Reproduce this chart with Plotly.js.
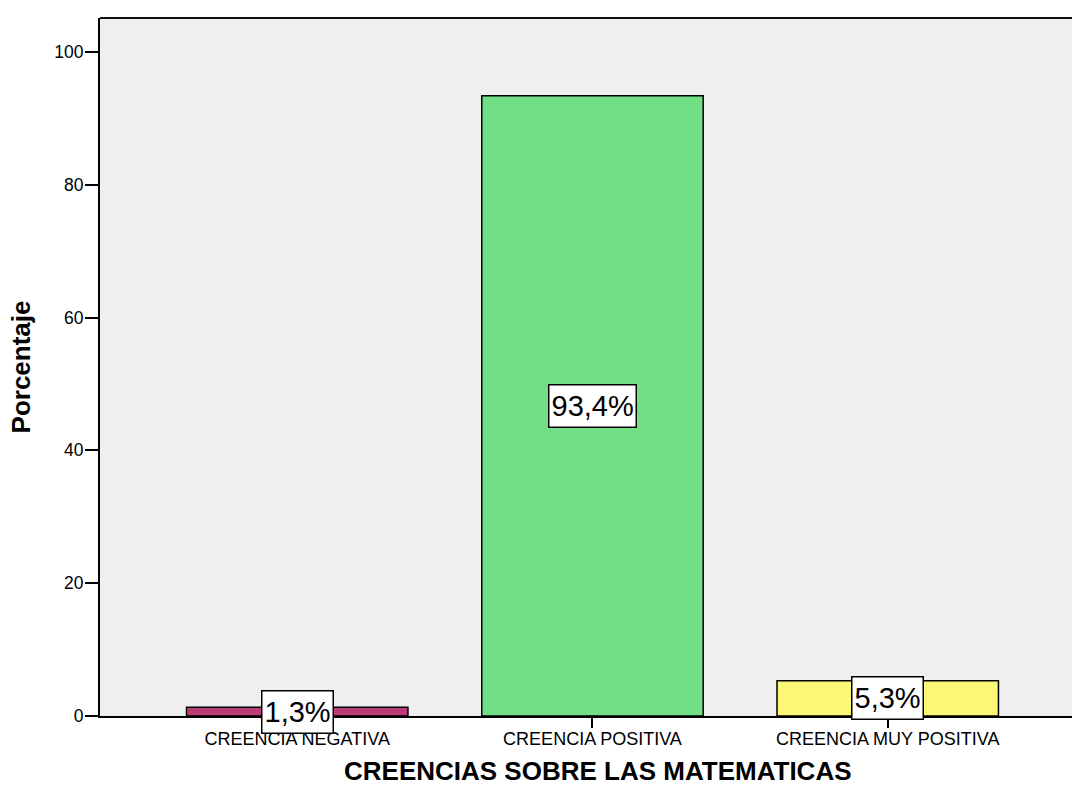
<!DOCTYPE html>
<html>
<head>
<meta charset="utf-8">
<script src="https://cdn.plot.ly/plotly-3.0.1.min.js"></script>
<style>
html,body{margin:0;padding:0;overflow:hidden;background:#fff;}
#chart{width:1095px;height:787px;}
</style>
</head>
<body>
<div id="chart"></div>
<script>
const categories = ["CREENCIA NEGATIVA", "CREENCIA POSITIVA", "CREENCIA MUY POSITIVA"];
const percentages = [1.3, 93.4, 5.3];
const labels = ["1,3%", "93,4%", "5,3%"];
const barColors = ["#bc3a76", "#72de85", "#fbf877"];
const yTicks = [0, 20, 40, 60, 80, 100];
const xTitle = "CREENCIAS SOBRE LAS MATEMATICAS";
const yTitle = "Porcentaje";

const trace = {
  type: "bar",
  x: categories,
  y: percentages,
  width: 0.75,
  marker: {color: barColors, line: {color: "#000", width: 1.5}},
  hoverinfo: "skip"
};

const annotations = categories.map((c, i) => ({
  x: c, y: percentages[i] / 2, xref: "x", yref: "y",
  text: labels[i], showarrow: false,
  font: {family: "Arial, Liberation Sans, sans-serif", size: 29, color: "#000"},
  bgcolor: "#ffffff", bordercolor: "#000", borderwidth: 1.5, borderpad: 2,
  height: 37
}));
annotations.push({
  text: xTitle, xref: "paper", yref: "paper", x: 0.5, y: -0.0785,
  xanchor: "center", yanchor: "middle", showarrow: false,
  font: {family: "Arial, Liberation Sans, sans-serif", size: 26, color: "#000", weight: "bold"}
});

const layout = {
  width: 1095, height: 787,
  margin: {l: 100, r: 0, t: 18, b: 71},
  paper_bgcolor: "#ffffff",
  plot_bgcolor: "#efefef",
  showlegend: false,
  font: {family: "Arial, Liberation Sans, sans-serif", color: "#000"},
  xaxis: {
    type: "category",
    range: [-0.668, 2.702],
    showline: true, linecolor: "#000", linewidth: 1.5,
    ticks: "outside", ticklen: 10, tickwidth: 2, tickcolor: "#000",
    ticklabelstandoff: -4,
    showgrid: false, zeroline: false,
    tickfont: {size: 18, color: "#000"}
  },
  yaxis: {
    range: [0, 105.1],
    tickvals: yTicks,
    showline: true, linecolor: "#000", linewidth: 2,
    ticks: "outside", ticklen: 13, tickwidth: 2, tickcolor: "#000",
    ticklabelstandoff: -2,
    showgrid: false, zeroline: false,
    tickfont: {size: 17.5, color: "#000"},
    title: {text: yTitle, font: {size: 26, color: "#000", weight: "bold"}, standoff: 16}
  },
  shapes: [{
    type: "line", xref: "paper", yref: "paper", x0: 0, x1: 1, y0: 1, y1: 1,
    line: {color: "#111", width: 2}
  }],
  annotations: annotations
};

Plotly.newPlot("chart", [trace], layout, {displayModeBar: false, staticPlot: true});
</script>
</body>
</html>
